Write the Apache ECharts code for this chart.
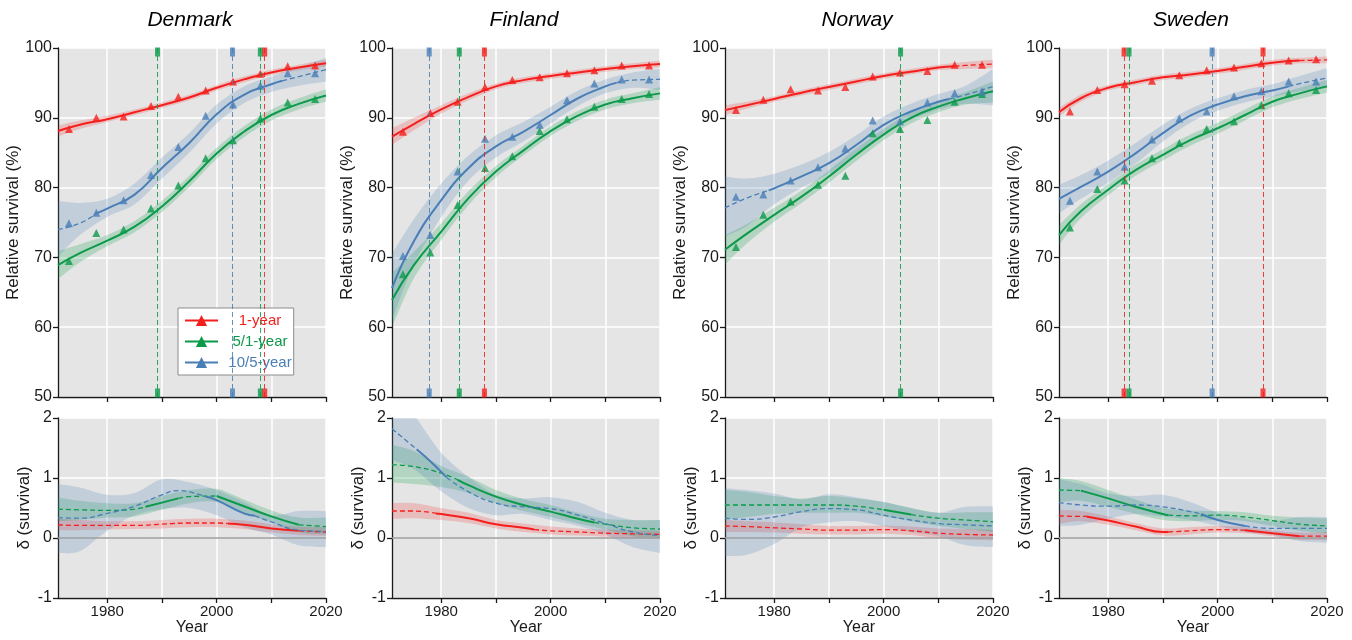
<!DOCTYPE html>
<html>
<head>
<meta charset="utf-8">
<title>Relative survival – Nordic countries</title>
<script src="https://cdn.jsdelivr.net/npm/echarts@6/dist/echarts.min.js"></script>
<style>
  html, body { margin: 0; padding: 0; background: #fff; }
  #chart { width: 1352px; height: 640px; }
</style>
</head>
<body>
<div id="chart"></div>
<script>
// shared year grids
const bandYears = [1971, 1975, 1980, 1985, 1990, 1995, 2000, 2005, 2010, 2015, 2020];
const periodYears = [1973, 1978, 1983, 1988, 1993, 1998, 2003, 2008, 2013, 2018];
const countries = ['Denmark', 'Finland', 'Norway', 'Sweden'];
const tickYears = [1980, 1990, 2000, 2010, 2020];
const labelYears = [1980, 2000, 2020];

// ---------- Denmark ----------
const dk1y = [[1971,88.1],[1975,89.0],[1980,89.8],[1985,90.8],[1990,91.8],[1995,92.9],[2000,94.3],[2005,95.5],[2010,96.5],[2015,97.2],[2020,97.8]];
const dk1yBand = [[87.3,88.9],[88.4,89.6],[89.4,90.3],[90.4,91.2],[91.4,92.2],[92.5,93.3],[93.9,94.7],[95.1,95.9],[96.1,96.9],[96.8,97.6],[97.3,98.3]];
const dk1yPts = [88.4,90.0,90.2,91.7,93.0,93.9,95.2,96.3,97.4,97.5];
const dk1ySolid = [[1971,2020]];
const dk51 = [[1971,68.9],[1975,70.6],[1980,72.4],[1985,74.4],[1990,77.3],[1995,80.9],[2000,84.9],[2005,88.0],[2010,90.4],[2015,92.0],[2020,93.2]];
const dk51Band = [[66.9,70.9],[69.3,71.9],[71.6,73.2],[73.6,75.2],[76.5,78.1],[80.1,81.7],[84.1,85.7],[87.2,88.8],[89.6,91.2],[91.2,92.8],[92.3,94.1]];
const dk51Pts = [69.5,73.5,74.0,77.0,80.3,84.2,86.8,89.9,92.2,92.7];
const dk51Solid = [[1971,2020]];
const dk105 = [[1971,74.0],[1975,74.9],[1978,76.3],[1980,77.0],[1985,79.0],[1990,82.8],[1995,86.4],[2000,90.5],[2005,93.3],[2010,94.8],[2012,95.3],[2015,95.9],[2020,96.9]];
const dk105Band = [[70.1,78.1],[73.2,77.8],[75.8,78.4],[77.6,80.6],[81.3,84.3],[85.0,87.8],[89.2,91.9],[92.1,94.5],[93.7,95.9],[94.6,97.2],[95.2,98.6]];
const dk105Pts = [74.9,76.4,78.2,81.8,85.8,90.3,91.9,94.6,96.4,96.4];
const dk105Solid = [[1978,2012]];
const dkBreaks = [[1989.2,'g'],[2002.9,'b'],[2008.0,'g'],[2008.8,'r']];
// Denmark — delta
const dk1yD = [[1971,0.22],[1975,0.21],[1980,0.21],[1985,0.21],[1990,0.23],[1995,0.25],[2000,0.25],[2002,0.24],[2005,0.22],[2010,0.16],[2015,0.12],[2020,0.10]];
const dk1yDBand = [[0.13,0.32],[0.13,0.30],[0.14,0.28],[0.15,0.28],[0.16,0.30],[0.18,0.32],[0.18,0.32],[0.15,0.29],[0.09,0.23],[0.05,0.19],[0.03,0.18]];
const dk1yDSolid = [[2002,2015]];
const dk51D = [[1971,0.48],[1975,0.47],[1980,0.46],[1985,0.48],[1987,0.52],[1990,0.59],[1993,0.66],[1995,0.69],[2000,0.70],[2005,0.53],[2010,0.36],[2015,0.22],[2020,0.19]];
const dk51DBand = [[0.28,0.68],[0.30,0.62],[0.34,0.58],[0.36,0.58],[0.47,0.70],[0.58,0.80],[0.60,0.82],[0.42,0.64],[0.26,0.46],[0.10,0.34],[0.06,0.34]];
const dk51DSolid = [[1987,1993],[2000,2015]];
const dk105D = [[1971,0.34],[1975,0.33],[1980,0.41],[1985,0.53],[1990,0.72],[1993,0.79],[1995,0.77],[1998,0.69],[2000,0.63],[2005,0.41],[2007,0.37],[2010,0.27],[2015,0.13],[2020,0.11]];
const dk105DBand = [[-0.25,0.90],[-0.22,0.84],[0.12,0.72],[0.38,0.75],[0.48,0.98],[0.50,0.93],[0.38,0.80],[0.18,0.60],[0.06,0.38],[-0.12,0.45],[-0.15,0.45]];
const dk105DSolid = [[1998,2007]];

// ---------- Finland ----------
const fi1y = [[1971,87.3],[1975,89.1],[1980,91.2],[1985,93.0],[1990,94.5],[1995,95.4],[2000,96.0],[2005,96.5],[2010,97.0],[2015,97.4],[2020,97.7]];
const fi1yBand = [[86.1,88.5],[88.2,90.0],[90.6,91.8],[92.5,93.5],[94.1,94.9],[95.0,95.8],[95.6,96.4],[96.1,96.9],[96.6,97.4],[97.0,97.8],[97.2,98.2]];
const fi1yPts = [88.0,90.7,92.3,94.4,95.4,95.8,96.4,96.8,97.5,97.5];
const fi1ySolid = [[1971,2020]];
const fi51 = [[1971,63.9],[1975,68.9],[1980,73.7],[1985,78.5],[1990,82.3],[1995,85.3],[2000,88.1],[2005,90.3],[2010,91.9],[2015,92.8],[2020,93.5]];
const fi51Band = [[60.0,67.8],[67.0,70.8],[72.5,74.9],[77.5,79.5],[81.5,83.1],[84.6,86.0],[87.4,88.8],[89.6,91.0],[91.2,92.6],[92.1,93.5],[92.6,94.4]];
const fi51Pts = [67.6,70.7,77.5,82.8,84.5,88.1,89.8,91.6,92.7,93.4];
const fi51Solid = [[1971,2020]];
const fi105 = [[1971,65.6],[1975,72.3],[1980,78.2],[1985,82.8],[1990,85.9],[1995,88.0],[2000,90.4],[2005,92.8],[2010,94.5],[2012,95.0],[2015,95.4],[2020,95.5]];
const fi105Band = [[61.0,70.5],[69.0,75.5],[75.8,80.6],[81.0,84.6],[84.3,87.5],[86.6,89.4],[89.2,91.6],[91.7,93.9],[93.5,95.5],[94.3,96.5],[94.0,97.0]];
const fi105Pts = [70.2,73.2,82.3,87.0,87.3,89.0,92.5,94.9,95.5,95.5];
const fi105Solid = [[1971,2012]];
const fiBreaks = [[1977.8,'b'],[1983.3,'g'],[1987.9,'r']];
const fi1yD = [[1971,0.45],[1975,0.45],[1979,0.41],[1980,0.40],[1985,0.33],[1990,0.23],[1995,0.17],[1997,0.14],[2000,0.12],[2005,0.10],[2010,0.08],[2015,0.07],[2020,0.06]];
const fi1yDBand = [[0.32,0.58],[0.33,0.58],[0.30,0.50],[0.25,0.42],[0.16,0.30],[0.10,0.24],[0.06,0.19],[0.04,0.16],[0.02,0.14],[0.00,0.13],[-0.01,0.12]];
const fi1yDSolid = [[1979,1997]];
const fi51D = [[1971,1.22],[1975,1.19],[1980,1.08],[1983,0.97],[1985,0.88],[1990,0.69],[1995,0.55],[2000,0.44],[2005,0.32],[2008,0.26],[2010,0.23],[2015,0.17],[2020,0.15]];
const fi51DBand = [[0.92,1.55],[0.90,1.45],[0.85,1.20],[0.75,1.02],[0.58,0.80],[0.45,0.65],[0.35,0.55],[0.24,0.42],[0.14,0.32],[0.03,0.30],[0.00,0.30]];
const fi51DSolid = [[1983,2008]];
const fi105D = [[1971,1.82],[1975.5,1.48],[1978,1.28],[1981,1.01],[1985,0.77],[1990,0.58],[1995,0.52],[2000,0.49],[2005,0.38],[2010,0.24],[2015,0.10],[2020,0.04]];
const fi105DBand = [[1.30,2.40],[1.15,2.05],[0.78,1.42],[0.50,1.02],[0.38,0.72],[0.40,0.66],[0.30,0.68],[0.20,0.60],[0.06,0.42],[-0.15,0.30],[-0.25,0.30]];
const fi105DSolid = [[1975.5,1981]];

// ---------- Norway ----------
const no1y = [[1971,91.1],[1975,91.8],[1980,92.7],[1985,93.6],[1990,94.4],[1995,95.2],[2000,96.0],[2005,96.6],[2010,97.2],[2013,97.4],[2015,97.5],[2020,97.7]];
const no1yBand = [[90.4,91.8],[91.3,92.3],[92.3,93.1],[93.2,94.0],[94.0,94.8],[94.8,95.6],[95.6,96.4],[96.2,97.0],[96.8,97.6],[97.0,98.0],[97.1,98.3]];
const no1yPts = [91.1,92.6,94.1,93.9,94.4,95.9,96.5,96.7,97.6,97.6];
const no1ySolid = [[1971,2013]];
const no51 = [[1971,71.1],[1975,73.4],[1980,76.1],[1985,78.7],[1990,81.6],[1995,84.7],[2000,87.6],[2005,90.0],[2010,91.6],[2015,92.8],[2020,93.8]];
const no51Band = [[69.0,73.2],[72.0,74.8],[75.1,77.1],[77.8,79.6],[80.7,82.5],[83.8,85.6],[86.8,88.4],[89.2,90.8],[90.8,92.4],[91.9,93.7],[92.2,95.2]];
const no51Pts = [71.5,76.1,78.0,80.4,81.7,87.8,88.4,89.7,92.3,93.4];
const no51Solid = [[1971,2020]];
const no105 = [[1971,77.1],[1975,78.5],[1979,79.6],[1980,79.9],[1985,81.6],[1990,83.5],[1995,86.1],[2000,89.0],[2005,90.9],[2010,92.3],[2012,92.7],[2015,93.3],[2020,94.5]];
const no105Band = [[73.0,81.6],[74.5,81.3],[77.6,82.0],[80.0,83.3],[82.0,85.1],[84.8,87.5],[87.8,90.2],[89.7,92.0],[91.2,93.4],[92.0,94.6],[91.8,97.0]];
const no105Pts = [78.7,79.0,81.0,82.9,85.6,89.6,89.5,92.2,93.5,93.8];
const no105Solid = [[1979,2012]];
const noBreaks = [[2003.1,'g']];
const no1yD = [[1971,0.20],[1975,0.19],[1980,0.17],[1985,0.15],[1990,0.13],[1995,0.13],[2000,0.14],[2005,0.12],[2010,0.08],[2015,0.06],[2020,0.05]];
const no1yDBand = [[0.10,0.30],[0.10,0.28],[0.09,0.26],[0.07,0.23],[0.06,0.20],[0.06,0.20],[0.07,0.21],[0.05,0.19],[0.00,0.16],[-0.03,0.15],[-0.04,0.14]];
const no1yDSolid = [];
const no51D = [[1971,0.55],[1975,0.55],[1980,0.55],[1985,0.55],[1990,0.55],[1995,0.53],[2000,0.47],[2005,0.39],[2010,0.33],[2015,0.30],[2020,0.27]];
const no51DBand = [[0.30,0.80],[0.35,0.77],[0.40,0.70],[0.42,0.66],[0.42,0.70],[0.42,0.66],[0.36,0.60],[0.28,0.50],[0.20,0.42],[0.15,0.43],[0.10,0.43]];
const no51DSolid = [[2000,2005]];
const no105D = [[1971,0.33],[1975,0.31],[1980,0.35],[1985,0.44],[1990,0.49],[1995,0.47],[2000,0.38],[2005,0.30],[2010,0.24],[2015,0.22],[2020,0.20]];
const no105DBand = [[-0.30,0.83],[-0.28,0.80],[-0.10,0.74],[0.18,0.64],[0.26,0.73],[0.28,0.68],[0.20,0.60],[0.10,0.50],[0.03,0.42],[-0.12,0.52],[-0.15,0.53]];
const no105DSolid = [];

// ---------- Sweden ----------
const se1y = [[1971,90.8],[1975,92.8],[1980,94.3],[1985,95.1],[1990,95.8],[1995,96.2],[2000,96.7],[2005,97.3],[2010,97.9],[2015,98.2],[2020,98.3]];
const se1yBand = [[90.2,91.4],[92.3,93.3],[93.9,94.7],[94.7,95.5],[95.4,96.2],[95.8,96.6],[96.3,97.1],[96.9,97.7],[97.5,98.3],[97.8,98.6],[97.8,98.8]];
const se1yPts = [90.9,94.0,94.8,95.3,96.1,96.8,97.2,97.8,98.2,98.4];
const se1ySolid = [[1971,2015]];
const se51 = [[1971,73.2],[1975,76.6],[1980,79.7],[1985,82.5],[1990,84.7],[1995,86.8],[2000,88.5],[2005,90.4],[2010,92.3],[2015,93.5],[2020,94.5]];
const se51Band = [[71.8,74.6],[75.6,77.6],[78.9,80.5],[81.7,83.3],[83.9,85.5],[86.0,87.6],[87.7,89.3],[89.6,91.2],[91.5,93.1],[92.7,94.3],[93.6,95.4]];
const se51Pts = [74.3,79.8,81.0,84.2,86.4,88.4,89.5,91.8,93.5,94.0];
const se51Solid = [[1971,2020]];
const se105 = [[1971,78.4],[1975,80.1],[1980,82.3],[1985,84.9],[1990,87.8],[1995,90.3],[2000,91.9],[2005,93.1],[2010,93.9],[2013,94.5],[2015,94.9],[2020,95.7]];
const se105Band = [[76.3,80.4],[78.4,81.8],[80.7,83.9],[83.4,86.4],[86.6,89.0],[89.3,91.3],[91.0,92.8],[92.2,94.0],[93.0,94.8],[93.8,96.0],[94.3,97.1]];
const se105Pts = [78.1,82.3,83.0,86.9,89.9,90.9,93.1,93.8,95.2,95.2];
const se105Solid = [[1971,2013]];
const seBreaks = [[1982.9,'r'],[1983.8,'g'],[1999.0,'b'],[2008.3,'r']];
const se1yD = [[1971,0.37],[1975,0.36],[1976,0.36],[1980,0.29],[1985,0.19],[1990,0.10],[1991,0.10],[1995,0.12],[2000,0.14],[2005,0.13],[2010,0.08],[2015,0.03],[2020,0.03]];
const se1yDBand = [[0.24,0.47],[0.28,0.45],[0.22,0.36],[0.13,0.25],[0.04,0.16],[0.06,0.18],[0.09,0.20],[0.08,0.18],[0.03,0.13],[-0.03,0.09],[-0.04,0.10]];
const se1yDSolid = [[1976,1991],[2005,2015]];
const se51D = [[1971,0.80],[1975,0.79],[1980,0.66],[1985,0.52],[1990,0.40],[1991,0.38],[1995,0.37],[2000,0.38],[2005,0.35],[2010,0.29],[2015,0.23],[2020,0.20]];
const se51DBand = [[0.60,1.00],[0.62,0.95],[0.52,0.80],[0.40,0.64],[0.30,0.50],[0.28,0.46],[0.30,0.45],[0.28,0.43],[0.20,0.37],[0.12,0.34],[0.08,0.32]];
const se51DSolid = [[1975,1991]];
const se105D = [[1971,0.59],[1975,0.55],[1980,0.53],[1985,0.55],[1990,0.52],[1995,0.44],[1997,0.40],[2000,0.30],[2005,0.20],[2010,0.16],[2015,0.16],[2020,0.16]];
const se105DBand = [[0.20,0.98],[0.22,0.90],[0.32,0.74],[0.40,0.70],[0.36,0.72],[0.30,0.60],[0.20,0.42],[0.10,0.32],[0.05,0.28],[-0.05,0.35],[-0.08,0.35]];
const se105DSolid = [[1997,2005]];

// ---------- styling ----------
const COLORS = { r: '#f41f1d', g: '#0b9a4a', b: '#4a7eb6' };
const FILLS = { r: 'rgba(244,31,29,0.2)', g: 'rgba(11,154,74,0.22)', b: 'rgba(74,126,182,0.22)' };
const LEGEND_NAMES = { r: '1-year', g: '5/1-year', b: '10/5-year' };
const INK = '#1a1a1a';
const FONT = "'Liberation Sans', Arial, Helvetica, sans-serif";
const gridLefts = [58, 392, 725, 1059];
const gridWidth = 268;

const panels = [
  { breaks: dkBreaks,
    top: [{c:'r', curve:dk1y, band:dk1yBand, pts:dk1yPts, solid:dk1ySolid}, {c:'g', curve:dk51, band:dk51Band, pts:dk51Pts, solid:dk51Solid}, {c:'b', curve:dk105, band:dk105Band, pts:dk105Pts, solid:dk105Solid}],
    bottom: [{c:'r', curve:dk1yD, band:dk1yDBand, solid:dk1yDSolid}, {c:'g', curve:dk51D, band:dk51DBand, solid:dk51DSolid}, {c:'b', curve:dk105D, band:dk105DBand, solid:dk105DSolid}] },
  { breaks: fiBreaks,
    top: [{c:'r', curve:fi1y, band:fi1yBand, pts:fi1yPts, solid:fi1ySolid}, {c:'g', curve:fi51, band:fi51Band, pts:fi51Pts, solid:fi51Solid}, {c:'b', curve:fi105, band:fi105Band, pts:fi105Pts, solid:fi105Solid}],
    bottom: [{c:'r', curve:fi1yD, band:fi1yDBand, solid:fi1yDSolid}, {c:'g', curve:fi51D, band:fi51DBand, solid:fi51DSolid}, {c:'b', curve:fi105D, band:fi105DBand, solid:fi105DSolid}] },
  { breaks: noBreaks,
    top: [{c:'r', curve:no1y, band:no1yBand, pts:no1yPts, solid:no1ySolid}, {c:'g', curve:no51, band:no51Band, pts:no51Pts, solid:no51Solid}, {c:'b', curve:no105, band:no105Band, pts:no105Pts, solid:no105Solid}],
    bottom: [{c:'r', curve:no1yD, band:no1yDBand, solid:no1yDSolid}, {c:'g', curve:no51D, band:no51DBand, solid:no51DSolid}, {c:'b', curve:no105D, band:no105DBand, solid:no105DSolid}] },
  { breaks: seBreaks,
    top: [{c:'r', curve:se1y, band:se1yBand, pts:se1yPts, solid:se1ySolid}, {c:'g', curve:se51, band:se51Band, pts:se51Pts, solid:se51Solid}, {c:'b', curve:se105, band:se105Band, pts:se105Pts, solid:se105Solid}],
    bottom: [{c:'r', curve:se1yD, band:se1yDBand, solid:se1yDSolid}, {c:'g', curve:se51D, band:se51DBand, solid:se51DSolid}, {c:'b', curve:se105D, band:se105DBand, solid:se105DSolid}] }
];

// split a curve into runs of solid / dashed pieces (pieces share their end points)
function segments(curve, solid) {
  const out = [];
  for (let i = 0; i < curve.length - 1; i++) {
    const mid = (curve[i][0] + curve[i + 1][0]) / 2;
    const isSolid = solid.some(r => mid >= r[0] && mid <= r[1]);
    const last = out[out.length - 1];
    if (last && last.solid === isSolid) last.pts.push(curve[i + 1]);
    else out.push({ solid: isSolid, pts: [curve[i], curve[i + 1]] });
  }
  return out;
}

// catmull-rom -> cubic bezier through pixel points
function bezierPath(pts) {
  let d = '';
  for (let i = 0; i < pts.length - 1; i++) {
    const p0 = pts[Math.max(i - 1, 0)], p1 = pts[i], p2 = pts[i + 1], p3 = pts[Math.min(i + 2, pts.length - 1)];
    const c1x = p1[0] + (p2[0] - p0[0]) / 6, c1y = p1[1] + (p2[1] - p0[1]) / 6;
    const c2x = p2[0] - (p3[0] - p1[0]) / 6, c2y = p2[1] - (p3[1] - p1[1]) / 6;
    d += ' C' + c1x + ',' + c1y + ' ' + c2x + ',' + c2y + ' ' + p2[0] + ',' + p2[1];
  }
  return d;
}

function bandSeries(gi, band, fill) {
  return {
    type: 'custom', xAxisIndex: gi, yAxisIndex: gi, clip: true, silent: true, z: 1,
    data: [[bandYears[0], band[0][0]]],
    renderItem: function (params, api) {
      const up = bandYears.map((y, i) => api.coord([y, band[i][1]]));
      const lo = bandYears.map((y, i) => api.coord([y, band[i][0]])).reverse();
      const d = 'M' + up[0][0] + ',' + up[0][1] + bezierPath(up) +
                ' L' + lo[0][0] + ',' + lo[0][1] + bezierPath(lo) + ' Z';
      return { type: 'path', shape: { pathData: d }, style: { fill: fill } };
    }
  };
}

const series = [];
panels.forEach(function (p, pi) {
  [[p.top, pi, true], [p.bottom, pi + 4, false]].forEach(function ([rows, gi, isTop]) {
    rows.forEach(row => series.push(bandSeries(gi, row.band, FILLS[row.c])));
    let zeroDone = isTop;
    rows.forEach(function (row) {
      let named = false;
      segments(row.curve, row.solid).forEach(function (seg) {
        const s = {
          type: 'line', xAxisIndex: gi, yAxisIndex: gi, data: seg.pts, smooth: true,
          symbol: 'triangle', showSymbol: false, silent: true, z: 3,
          itemStyle: { color: COLORS[row.c] },
          lineStyle: { color: COLORS[row.c], width: seg.solid ? 2 : 1.3, type: seg.solid ? 'solid' : [5, 3] }
        };
        if (pi === 0 && isTop && seg.solid && !named) { s.name = LEGEND_NAMES[row.c]; named = true; }
        if (!zeroDone) {
          s.markLine = { silent: true, symbol: 'none', label: { show: false }, z: 2,
            lineStyle: { color: '#9a9a9a', type: 'solid', width: 1.5 }, data: [{ yAxis: 0 }] };
          zeroDone = true;
        }
        series.push(s);
      });
      if (isTop) {
        series.push({
          type: 'scatter', xAxisIndex: gi, yAxisIndex: gi, silent: true, z: 4,
          symbol: 'triangle', symbolSize: 8,
          itemStyle: { color: COLORS[row.c], opacity: 0.8 },
          data: periodYears.map((y, i) => [y, row.pts[i]])
        });
      }
    });
  });
  // change points: dashed vertical line with small bars at top and bottom
  series.push({
    type: 'scatter', xAxisIndex: pi, yAxisIndex: pi, silent: true, clip: false, z: 2,
    symbol: 'rect', symbolSize: [5, 9],
    data: p.breaks.flatMap(b => [
      { value: [b[0], 100], symbolOffset: [0, 4], itemStyle: { color: COLORS[b[1]] } },
      { value: [b[0], 50], symbolOffset: [0, -4], itemStyle: { color: COLORS[b[1]] } }
    ]),
    markLine: {
      silent: true, symbol: 'none', label: { show: false },
      data: p.breaks.map(b => ({ xAxis: b[0], lineStyle: { color: COLORS[b[1]], type: [5, 3], width: 1, opacity: 0.85 } }))
    }
  });
});

const grids = [], xAxes = [], yAxes = [];
[0, 1].forEach(function (row) {
  gridLefts.forEach(function (left, i) {
    const gi = row * 4 + i;
    const isTop = row === 0;
    grids.push({ left: left, width: gridWidth, top: isTop ? 48 : 418, height: isTop ? 349 : 180,
      show: true, backgroundColor: '#e5e5e5', borderWidth: 0 });
    xAxes.push({
      type: 'value', gridIndex: gi, min: 1971, max: 2020,
      axisLine: { show: true, onZero: false, lineStyle: { color: INK, width: 1.3 } },
      axisTick: { show: true, length: 5, customValues: tickYears, lineStyle: { color: INK, width: 1.3 } },
      axisLabel: { show: !isTop, customValues: labelYears, formatter: v => String(v),
        fontSize: 15, color: INK, margin: 6, fontFamily: FONT },
      splitLine: { show: true, lineStyle: { color: '#ffffff', width: 1.5 } },
      name: isTop ? '' : 'Year', nameLocation: 'middle', nameGap: 22,
      nameTextStyle: { fontSize: 16, color: INK, fontFamily: FONT }
    });
    yAxes.push({
      type: 'value', gridIndex: gi,
      min: isTop ? 50 : -1, max: isTop ? 100 : 2, interval: isTop ? 10 : 1,
      axisLine: { show: true, lineStyle: { color: INK, width: 1.3 } },
      axisTick: { show: true, length: 5, lineStyle: { color: INK, width: 1.3 } },
      axisLabel: { fontSize: 16, color: INK, margin: 6, fontFamily: FONT },
      splitLine: { show: true, lineStyle: { color: '#ffffff', width: 1.5 } },
      name: isTop ? 'Relative survival (%)' : 'δ (survival)', nameLocation: 'middle',
      nameGap: isTop ? 27 : 25,
      nameTextStyle: { fontSize: 17, color: INK, fontFamily: FONT }
    });
  });
});

const chart = echarts.init(document.getElementById('chart'), null, { renderer: 'canvas' });
chart.setOption({
  animation: false,
  backgroundColor: '#ffffff',
  textStyle: { fontFamily: FONT },
  title: countries.map((c, i) => ({
    text: c, left: gridLefts[i] + gridWidth / 2 - 7, top: 5, textAlign: 'center',
    textStyle: { fontStyle: 'italic', fontWeight: 'normal', fontSize: 21, color: '#000', fontFamily: FONT }
  })),
  legend: {
    left: 178, top: 308, orient: 'vertical', selectedMode: false,
    itemWidth: 33, itemHeight: 14, itemGap: 6, padding: [5, 2, 5, 6],
    backgroundColor: '#ffffff', borderColor: '#8c8c8c', borderWidth: 1,
    data: ['r', 'g', 'b'].map(c => ({ name: LEGEND_NAMES[c], textStyle: { color: COLORS[c] } })),
    formatter: n => '{t|' + n + '}',
    textStyle: { fontSize: 15, fontFamily: FONT, rich: { t: { width: 74, align: 'center', fontSize: 15 } } }
  },
  grid: grids,
  xAxis: xAxes,
  yAxis: yAxes,
  series: series
});
</script>
</body>
</html>
